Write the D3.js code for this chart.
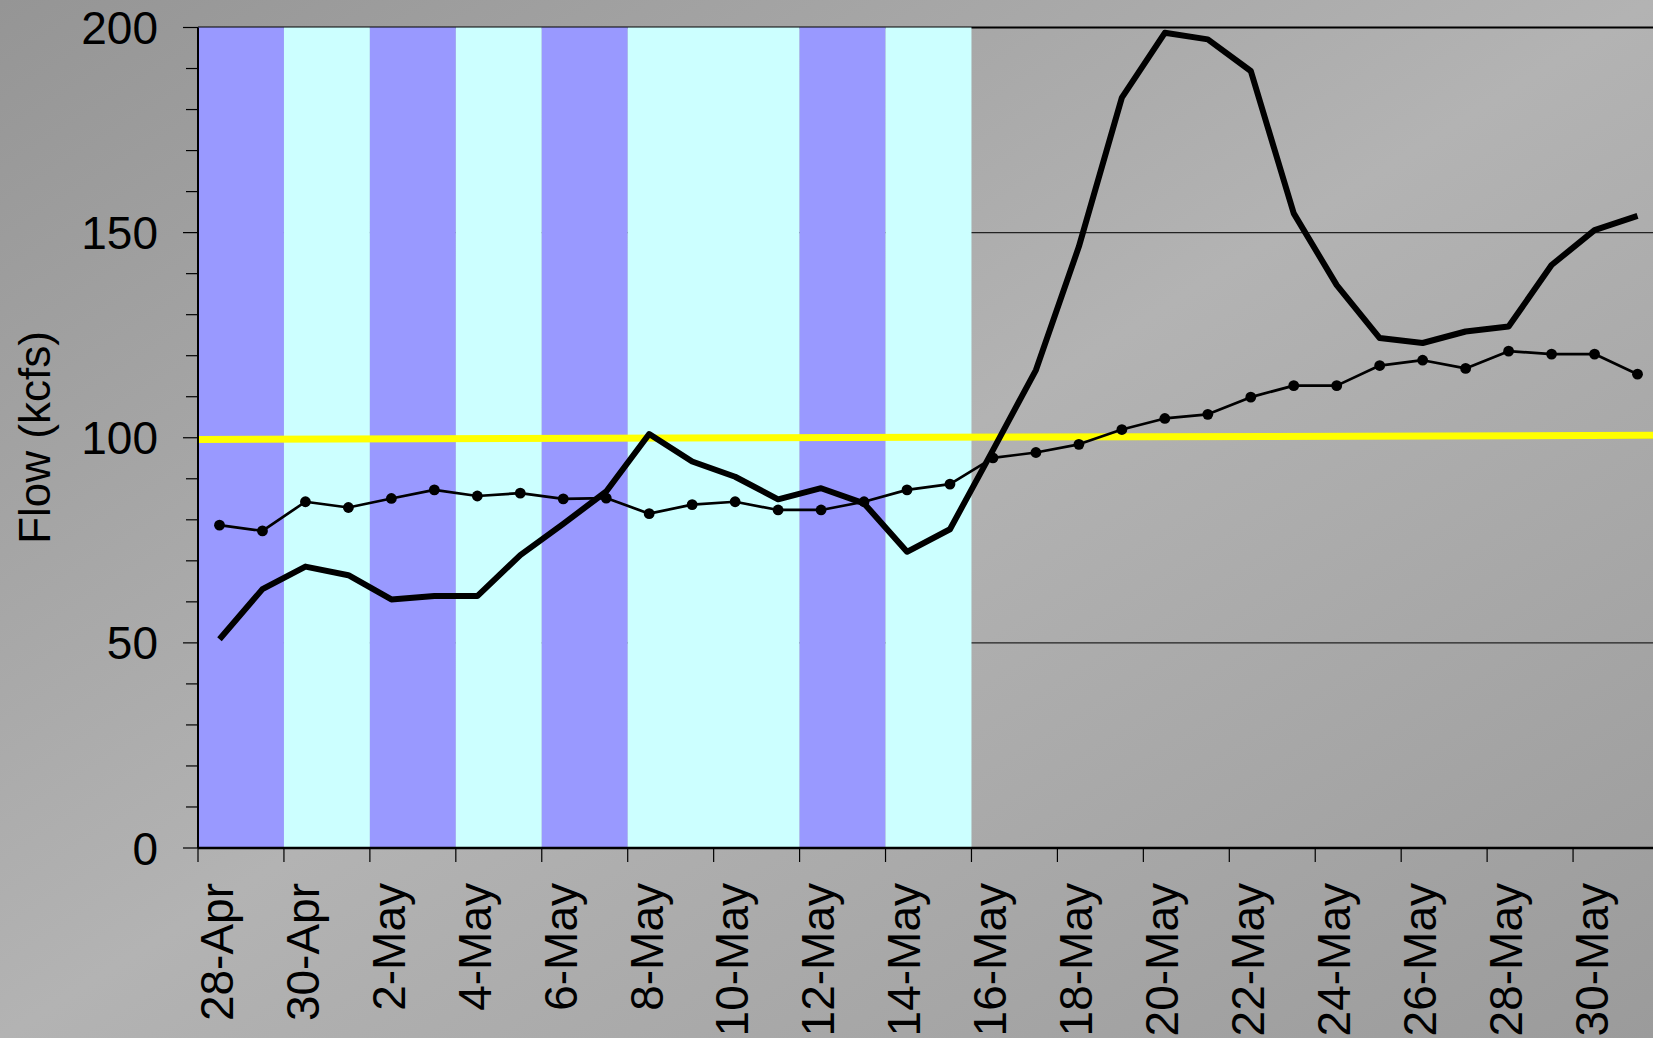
<!DOCTYPE html>
<html>
<head>
<meta charset="utf-8">
<script src="https://cdn.jsdelivr.net/npm/d3@7"></script>
<style>
  body { margin: 0; padding: 0; overflow: hidden; }
  svg { display: block; }
</style>
</head>
<body>
<svg></svg>
<script>
var width = 1653;
var height = 1038;

// categories (one per day)
var dates = ["28-Apr", "29-Apr", "30-Apr", "1-May", "2-May", "3-May", "4-May", "5-May",
             "6-May", "7-May", "8-May", "9-May", "10-May", "11-May", "12-May", "13-May",
             "14-May", "15-May", "16-May", "17-May", "18-May", "19-May", "20-May", "21-May",
             "22-May", "23-May", "24-May", "25-May", "26-May", "27-May", "28-May", "29-May",
             "30-May", "31-May"];

// thick line (no markers)
var flowA = [50.9, 63.1, 68.6, 66.5, 60.6, 61.4, 61.4, 71.4, 79.0, 86.9, 100.9, 94.2,
             90.5, 85.0, 87.7, 84.0, 72.2, 77.7, 97.0, 116.5, 146.6, 182.9, 198.7, 197.1,
             189.4, 154.7, 137.2, 124.3, 123.1, 125.9, 127.1, 142.1, 150.6, 154.1];

// thin line with dots
var flowB = [78.7, 77.3, 84.4, 83.0, 85.2, 87.3, 85.8, 86.5, 85.1, 85.3, 81.5, 83.7,
             84.4, 82.4, 82.4, 84.4, 87.3, 88.7, 95.1, 96.4, 98.4, 102.0, 104.7, 105.7,
             109.9, 112.7, 112.7, 117.6, 118.9, 116.9, 121.1, 120.4, 120.4, 115.5];

// shaded periods
var bandFrom = ["28-Apr", "30-Apr", "2-May", "4-May", "6-May", "8-May", "12-May", "14-May"];
var bandTo   = ["29-Apr", "1-May", "3-May", "5-May", "7-May", "11-May", "13-May", "15-May"];
var bandKind = ["a", "b", "a", "b", "a", "b", "a", "b"];

// yellow reference line (value at left edge, value at right edge)
var refLine = [99.6, 100.6];

var yTicks = [0, 50, 100, 150, 200];
var yMinor = d3.range(0, 201, 10);
var gridValues = [50, 100, 150, 200];

var bandColor = { a: "#9999FF", b: "#CCFFFF" };
var font = "'Liberation Sans', Arial, sans-serif";

// plot box ("top" is taken by window.top, so prefix these)
var plotLeft = 198, plotRight = 1659, plotTop = 27.5, plotBottom = 848;

var svg = d3.select("svg")
            .attr("width", width)
            .attr("height", height)

// background gradient
var defs = svg.append("defs");
var grad = defs.append("linearGradient")
    .attr("id", "bg")
    .attr("x1", 0).attr("y1", 0).attr("x2", 1).attr("y2", 1);
grad.append("stop").attr("offset", 0).attr("stop-color", "#959595");
grad.append("stop").attr("offset", 0.5).attr("stop-color", "#b3b3b3");
grad.append("stop").attr("offset", 1).attr("stop-color", "#9b9b9b");

svg.append("rect")
    .attr("width", width)
    .attr("height", height)
    .attr("fill", "url(#bg)");

var x = d3.scaleBand()
    .domain(dates)
    .range([plotLeft, plotRight])
    .padding(0);

var xLin = d3.scaleLinear()
    .domain([0, dates.length])
    .range([plotLeft, plotRight]);

var y = d3.scaleLinear()
    .domain([0, 200])
    .range([plotBottom, plotTop]);

function cx(d) { return x(d) + x.bandwidth() / 2; }

// gridlines
svg.append("g")
    .selectAll("line")
    .data(gridValues)
    .join("line")
    .attr("x1", plotLeft)
    .attr("x2", plotRight)
    .attr("y1", function(d) { return y(d); })
    .attr("y2", function(d) { return y(d); })
    .attr("stroke", function(d) { return d == 200 ? "#000" : "#222"; })
    .attr("stroke-width", function(d) { return d == 200 ? 2.2 : 1.2; });

// shaded bands
svg.append("g")
    .selectAll("rect")
    .data(bandFrom)
    .join("rect")
    .attr("x", function(d) { return x(d); })
    .attr("width", function(d, i) { return x(bandTo[i]) + x.bandwidth() - x(d); })
    .attr("y", y(200))
    .attr("height", y(0) - y(200))
    .attr("fill", function(d, i) { return bandColor[bandKind[i]]; });

// yellow line
svg.append("line")
    .attr("x1", xLin(0))
    .attr("x2", xLin(dates.length))
    .attr("y1", y(refLine[0]))
    .attr("y2", y(refLine[1]))
    .attr("stroke", "#FFFF00")
    .attr("stroke-width", 7);

// y axis
var yAxis = svg.append("g");
yAxis.append("line")
    .attr("x1", plotLeft).attr("x2", plotLeft)
    .attr("y1", y(200)).attr("y2", y(0))
    .attr("stroke", "#000").attr("stroke-width", 2);
yAxis.selectAll(".minor")
    .data(yMinor)
    .join("line")
    .attr("class", "minor")
    .attr("x1", function(d) { return d % 50 == 0 ? plotLeft - 15 : plotLeft - 12; })
    .attr("x2", plotLeft)
    .attr("y1", function(d) { return y(d); })
    .attr("y2", function(d) { return y(d); })
    .attr("stroke", "#000").attr("stroke-width", 1.2);
yAxis.selectAll("text")
    .data(yTicks)
    .join("text")
    .attr("x", 158)
    .attr("y", function(d) { return y(d); })
    .attr("dy", "0.36em")
    .attr("text-anchor", "end")
    .attr("font-family", font)
    .attr("font-size", 46)
    .attr("fill", "#000")
    .text(function(d) { return d; });

// y axis title
svg.append("text")
    .attr("transform", "translate(50,437.5) rotate(-90)")
    .attr("text-anchor", "middle")
    .attr("font-family", font)
    .attr("font-size", 44)
    .attr("fill", "#000")
    .text("Flow (kcfs)");

// x axis
var xAxis = svg.append("g");
xAxis.append("line")
    .attr("x1", plotLeft).attr("x2", plotRight)
    .attr("y1", y(0)).attr("y2", y(0))
    .attr("stroke", "#000").attr("stroke-width", 2.5);

var labelled = dates.filter(function(d, i) { return i % 2 == 0; });

xAxis.selectAll(".tick")
    .data(labelled)
    .join("line")
    .attr("class", "tick")
    .attr("x1", function(d) { return x(d); })
    .attr("x2", function(d) { return x(d); })
    .attr("y1", y(0))
    .attr("y2", y(0) + 14)
    .attr("stroke", "#000").attr("stroke-width", 1.2);

xAxis.selectAll("text")
    .data(labelled)
    .join("text")
    .attr("transform", function(d) { return "translate(" + cx(d) + "," + (y(0) + 35) + ") rotate(-90)"; })
    .attr("dy", "0.29em")
    .attr("text-anchor", "end")
    .attr("font-family", font)
    .attr("font-size", 46)
    .attr("fill", "#000")
    .text(function(d) { return d; });

// series
var lineA = d3.line()
    .x(function(d, i) { return cx(dates[i]); })
    .y(function(d) { return y(d); });

svg.append("path")
    .attr("d", lineA(flowA))
    .attr("fill", "none")
    .attr("stroke", "#000")
    .attr("stroke-width", 6)
    .attr("stroke-linejoin", "round");

svg.append("path")
    .attr("d", lineA(flowB))
    .attr("fill", "none")
    .attr("stroke", "#000")
    .attr("stroke-width", 2.7)
    .attr("stroke-linejoin", "round");

svg.append("g")
    .selectAll("circle")
    .data(flowB)
    .join("circle")
    .attr("cx", function(d, i) { return cx(dates[i]); })
    .attr("cy", function(d) { return y(d); })
    .attr("r", 5.4)
    .attr("fill", "#000");
</script>
</body>
</html>
